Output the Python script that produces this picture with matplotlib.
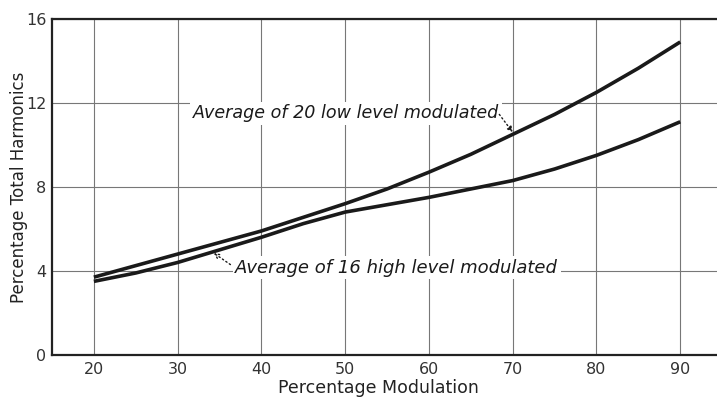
import matplotlib.pyplot as plt

modulation = [20, 25, 30, 35, 40, 45, 50, 55, 60, 65, 70, 75, 80, 85, 90]
low_level = [3.7, 4.25, 4.8, 5.35, 5.9, 6.55, 7.2, 7.9, 8.7, 9.55, 10.5, 11.45, 12.5, 13.65, 14.9]
high_level = [3.5, 3.9, 4.4, 5.0, 5.6, 6.25, 6.8, 7.15, 7.5, 7.9, 8.3, 8.85, 9.5, 10.25, 11.1]

x_ticks = [20, 30, 40, 50, 60, 70, 80, 90]
y_ticks = [0, 4, 8, 12, 16]

fig = plt.figure(figsize=(7.17, 4.01), dpi=100)
ax = fig.add_axes([0.0725, 0.115, 0.93, 0.838])

ax.plot(modulation, low_level, color='#1a1a1a', lw=2.6, solid_capstyle='butt')
ax.plot(modulation, high_level, color='#1a1a1a', lw=2.6, solid_capstyle='butt')

ax.set_xlim(15, 94.6)
ax.set_ylim(0, 16)
ax.set_xticks(x_ticks)
ax.set_yticks(y_ticks)
ax.tick_params(length=0, colors='#333333', labelsize=11.5, pad=5)
ax.tick_params(axis='y', pad=4)
ax.grid(True, color='#777777', lw=0.8)
ax.set_axisbelow(True)

for side in ['left', 'bottom', 'top']:
    ax.spines[side].set_linewidth(1.6)
    ax.spines[side].set_color('#222222')
ax.spines['right'].set_visible(False)

ax.set_xlabel('Percentage Modulation', fontsize=12.5, color='#222222')
ax.set_ylabel('Percentage Total Harmonics', fontsize=12, color='#222222')
ax.xaxis.set_label_coords(0.49, -0.072)
ax.yaxis.set_label_coords(-0.036, 0.5)

box = dict(boxstyle='square,pad=0.15', fc='white', ec='none')
leader = dict(arrowstyle='-|>', ls=(0, (1, 2)), lw=1.0, color='#1a1a1a',
              mutation_scale=8, shrinkA=0, shrinkB=0)

# upper curve label, leader from its end down to the curve
ax.text(31.8, 11.5, 'Average of 20 low level modulated', fontsize=12.6,
        style='italic', color='#1a1a1a', va='center', ha='left', bbox=box)
ax.annotate('', xy=(70.0, 10.6), xytext=(68.4, 11.45), arrowprops=leader)

# lower curve label, leader from its start up to the curve
ax.text(36.9, 4.15, 'Average of 16 high level modulated', fontsize=13,
        style='italic', color='#1a1a1a', va='center', ha='left', bbox=box)
ax.annotate('', xy=(34.3, 4.85), xytext=(36.3, 4.3),
            arrowprops=dict(leader, arrowstyle='->'))

fig.savefig('out.png', dpi=100)
